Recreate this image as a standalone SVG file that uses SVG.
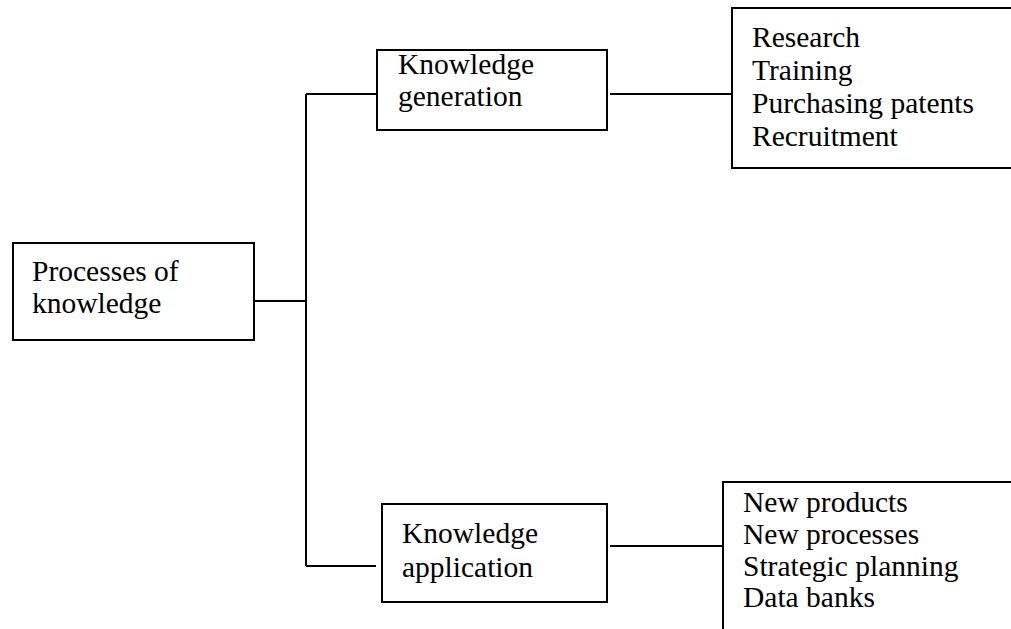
<svg xmlns="http://www.w3.org/2000/svg" width="1011" height="629" viewBox="0 0 1011 629">
<style>
.box{fill:#fff;stroke:#000;stroke-width:2}
.ln{fill:none;stroke:#000;stroke-width:2}
text{font-family:"Liberation Serif","Times New Roman",serif;font-size:29.5px;fill:#000}
</style>
<rect width="1011" height="629" fill="#fff"/>
<g id="connectors">
<path class="ln" d="M254 301H306M306 94V566M306 94H377M306 566H376M610 94H732M610 546H723"/>
</g>
<g id="processes">
<rect class="box" x="13" y="243" width="241" height="97"/>
<text x="32" y="281">Processes of</text>
<text x="32" y="313">knowledge</text>
</g>
<g id="generation">
<rect class="box" x="377" y="50" width="230" height="80"/>
<text x="398" y="74">Knowledge</text>
<text x="398" y="106">generation</text>
</g>
<g id="application">
<rect class="box" x="382" y="504" width="225" height="98"/>
<text x="402" y="543">Knowledge</text>
<text x="402" y="577">application</text>
</g>
<g id="generation-items">
<path class="ln" d="M1012 8H732V168H1012"/>
<text x="752" y="47">Research</text>
<text x="752" y="80">Training</text>
<text x="752" y="113">Purchasing patents</text>
<text x="752" y="146">Recruitment</text>
</g>
<g id="application-items">
<path class="ln" d="M1012 482H723V630"/>
<text x="743" y="512">New products</text>
<text x="743" y="544">New processes</text>
<text x="743" y="576">Strategic planning</text>
<text x="743" y="607">Data banks</text>
</g>
</svg>
